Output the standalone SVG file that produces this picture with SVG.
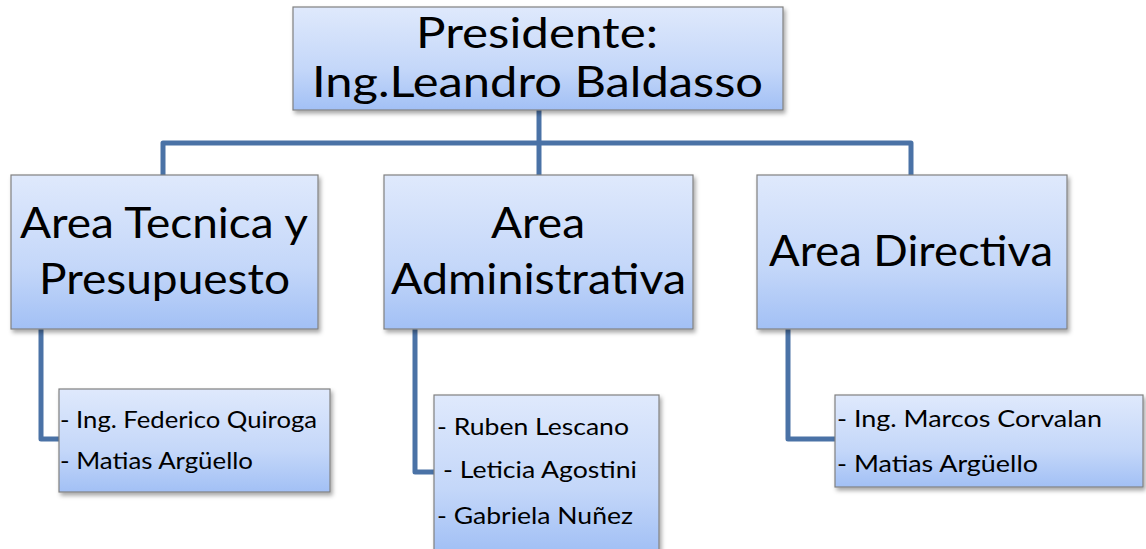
<svg xmlns="http://www.w3.org/2000/svg" width="1146" height="549" viewBox="0 0 1146 549">
<defs>
<linearGradient id="g" x1="0" y1="0" x2="0" y2="1">
<stop offset="0" stop-color="#dfe9fc"/>
<stop offset="0.6" stop-color="#c4d7f9"/>
<stop offset="1" stop-color="#a2c0f5"/>
</linearGradient>
<filter id="sh" x="-5%" y="-5%" width="112%" height="120%">
<feDropShadow dx="2" dy="3" stdDeviation="2" flood-color="#000" flood-opacity="0.35"/>
</filter>
</defs>
<style>
.box{fill:url(#g);stroke:#808080;stroke-width:1.2;filter:url(#sh)}
.t{font-family:Lato,"Open Sans","Liberation Sans",sans-serif;fill:#000}
.big{font-size:42px}
.sm{font-size:23px}
.c{fill:none;stroke:#4a72a6;stroke-width:5;stroke-linejoin:round}
</style>
<rect width="1146" height="549" fill="#fff"/>
<g id="connectors">
<path class="c" d="M539 110 V175"/>
<path class="c" d="M163 175 V143 H911 V175"/>
<path class="c" d="M41 329 V439 H60"/>
<path class="c" d="M415 329 V472 H435"/>
<path class="c" d="M788 329 V439 H836"/>
</g>
<g id="presidente">
<rect class="box" x="293" y="7" width="490" height="103"/>
<text class="t big" x="537" y="48" text-anchor="middle" textLength="242" lengthAdjust="spacingAndGlyphs">Presidente:</text>
<text class="t big" x="537.5" y="97" text-anchor="middle" textLength="451" lengthAdjust="spacingAndGlyphs">Ing.Leandro Baldasso</text>
</g>
<g id="area-tecnica">
<rect class="box" x="11" y="175" width="307" height="154"/>
<text class="t big" x="164" y="238" text-anchor="middle" textLength="288" lengthAdjust="spacingAndGlyphs">Area Tecnica y</text>
<text class="t big" x="164.5" y="294" text-anchor="middle" textLength="251" lengthAdjust="spacingAndGlyphs">Presupuesto</text>
</g>
<g id="area-administrativa">
<rect class="box" x="384" y="175" width="309" height="154"/>
<text class="t big" x="538" y="238" text-anchor="middle" textLength="94" lengthAdjust="spacingAndGlyphs">Area</text>
<text class="t big" x="538.5" y="294" text-anchor="middle" textLength="295" lengthAdjust="spacingAndGlyphs">Administrativa</text>
</g>
<g id="area-directiva">
<rect class="box" x="757" y="175" width="310" height="154"/>
<text class="t big" x="911" y="266" text-anchor="middle" textLength="284" lengthAdjust="spacingAndGlyphs">Area Directiva</text>
</g>
<g id="equipo-tecnica">
<rect class="box" x="59" y="389" width="271" height="103"/>
<text class="t sm" x="60" y="428" textLength="257" lengthAdjust="spacingAndGlyphs">- Ing. Federico Quiroga</text>
<text class="t sm" x="60" y="469" textLength="193" lengthAdjust="spacingAndGlyphs">- Matias Argüello</text>
</g>
<g id="equipo-administrativa">
<rect class="box" x="434" y="395" width="225" height="156"/>
<text class="t sm" x="437" y="435" textLength="192" lengthAdjust="spacingAndGlyphs">- Ruben Lescano</text>
<text class="t sm" x="443" y="478" textLength="194" lengthAdjust="spacingAndGlyphs">- Leticia Agostini</text>
<text class="t sm" x="437" y="524" textLength="196" lengthAdjust="spacingAndGlyphs">- Gabriela Nuñez</text>
</g>
<g id="equipo-directiva">
<rect class="box" x="835" y="395" width="308" height="92"/>
<text class="t sm" x="837" y="427" textLength="265" lengthAdjust="spacingAndGlyphs">- Ing. Marcos Corvalan</text>
<text class="t sm" x="837" y="472" textLength="201" lengthAdjust="spacingAndGlyphs">- Matias Argüello</text>
</g>
</svg>
